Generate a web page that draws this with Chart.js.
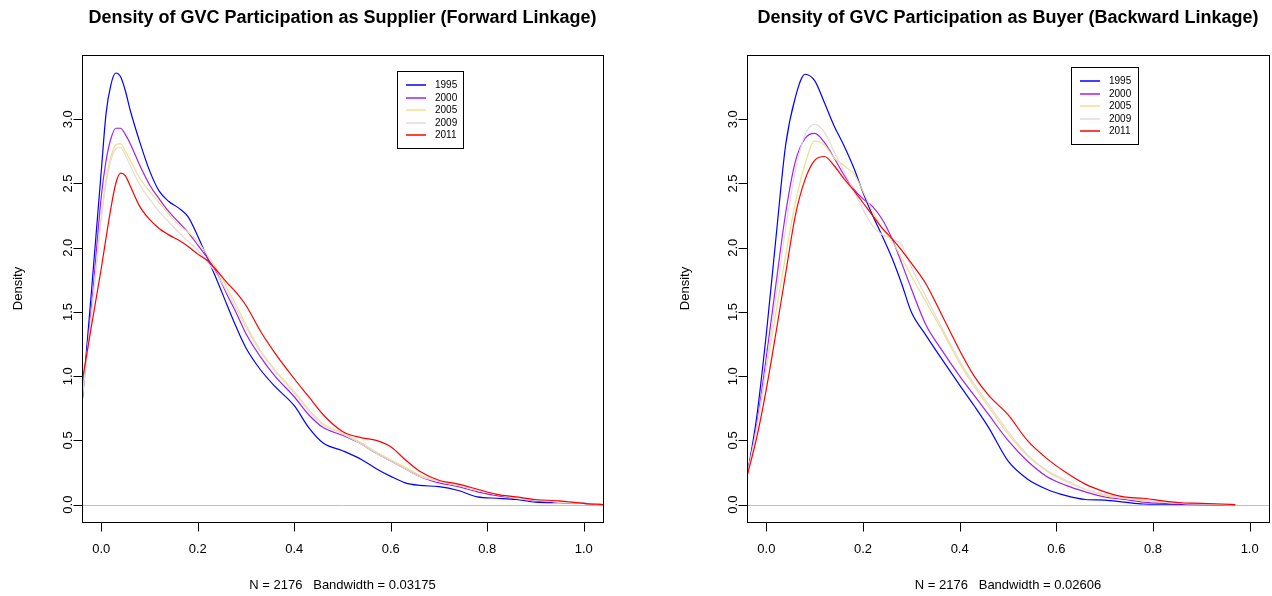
<!DOCTYPE html>
<html lang="en">
<head>
<meta charset="UTF-8" />
<title>Density of GVC Participation</title>
<style>
  html, body { margin: 0; padding: 0; background: #fff; }
  .wrap { position: relative; width: 1272px; height: 596px; }
  .panel { position: absolute; top: 0; width: 636px; height: 596px; }
</style>
</head>
<body>
<div class="wrap">
  <div class="panel" style="left:0"><canvas id="fwd" width="636" height="596"></canvas></div>
  <div class="panel" style="left:636px"><canvas id="bwd" width="636" height="596"></canvas></div>
</div>

<script src="https://cdn.jsdelivr.net/npm/chart.js"></script>
<script>
// --- data ---
const years = ["1995", "2000", "2005", "2009", "2011"];
const lineColors = ["#0000ff", "#a020f0", "#eee08c", "#e4dada", "#ff0000"];
const xTicks = [0, 0.2, 0.4, 0.6, 0.8, 1.0];
const yTicks = [0, 0.5, 1, 1.5, 2, 2.5, 3];

// forward linkage (supplier)
const fwdX = [-0.04, -0.02, 0, 0.01, 0.02, 0.03, 0.04, 0.05, 0.06, 0.08, 0.10, 0.12, 0.14, 0.16, 0.18, 0.20,
  0.22, 0.24, 0.26, 0.28, 0.30, 0.33, 0.36, 0.40, 0.43, 0.46, 0.50, 0.54, 0.57, 0.60, 0.63, 0.66,
  0.70, 0.74, 0.78, 0.82, 0.86, 0.90, 0.95, 1.00, 1.04];
const fwd1995 = [0.78, 1.68, 2.6, 3.05, 3.27, 3.36, 3.33, 3.22, 3.07, 2.82, 2.6, 2.44, 2.36, 2.31, 2.24, 2.09,
  1.92, 1.745, 1.56, 1.38, 1.22, 1.05, 0.92, 0.77, 0.6, 0.48, 0.42, 0.35, 0.28, 0.22, 0.17, 0.15,
  0.14, 0.11, 0.06, 0.05, 0.04, 0.02, 0.015, 0.01, 0.0];
const fwd2000 = [0.8, 1.55, 2.4, 2.68, 2.85, 2.93, 2.93, 2.88, 2.81, 2.64, 2.49, 2.38, 2.28, 2.2, 2.12, 2.02,
  1.92, 1.8, 1.64, 1.49, 1.33, 1.15, 1.0, 0.84, 0.7, 0.6, 0.54, 0.47, 0.4, 0.34, 0.28, 0.22,
  0.17, 0.14, 0.1, 0.07, 0.05, 0.03, 0.02, 0.01, 0.0];
const fwd2005 = [0.82, 1.5, 2.25, 2.53, 2.71, 2.8, 2.81, 2.75, 2.68, 2.54, 2.44, 2.35, 2.26, 2.18, 2.12, 2.05,
  1.94, 1.83, 1.69, 1.55, 1.4, 1.2, 1.05, 0.88, 0.74, 0.63, 0.56, 0.48, 0.41, 0.35, 0.29, 0.23,
  0.18, 0.15, 0.11, 0.08, 0.05, 0.035, 0.02, 0.01, 0.0];
const fwd2009 = [0.82, 1.48, 2.22, 2.5, 2.68, 2.77, 2.78, 2.72, 2.64, 2.49, 2.38, 2.28, 2.2, 2.12, 2.05, 1.98,
  1.89, 1.79, 1.66, 1.52, 1.38, 1.19, 1.04, 0.87, 0.73, 0.62, 0.55, 0.47, 0.4, 0.34, 0.28, 0.22,
  0.18, 0.15, 0.11, 0.08, 0.05, 0.035, 0.02, 0.01, 0.0];
const fwd2011 = [0.95, 1.4, 1.84, 2.08, 2.31, 2.5, 2.58, 2.56, 2.48, 2.32, 2.22, 2.15, 2.1, 2.06, 2.01, 1.95,
  1.9, 1.82, 1.73, 1.65, 1.55, 1.35, 1.18, 0.98, 0.84, 0.7, 0.57, 0.52, 0.5, 0.45, 0.35, 0.26,
  0.19, 0.16, 0.12, 0.08, 0.06, 0.04, 0.03, 0.01, 0.0];

// backward linkage (buyer)
const bwdX = [-0.04, -0.02, 0, 0.02, 0.04, 0.06, 0.08, 0.10, 0.12, 0.14, 0.16, 0.18, 0.20, 0.22, 0.24, 0.26,
  0.28, 0.30, 0.33, 0.36, 0.40, 0.43, 0.46, 0.50, 0.54, 0.58, 0.62, 0.66, 0.70, 0.74, 0.78, 0.82,
  0.86, 0.90, 0.94, 0.97];
const bwd1995 = [0.22, 0.68, 1.33, 2.08, 2.8, 3.17, 3.35, 3.3, 3.13, 2.95, 2.8, 2.63, 2.43, 2.25, 2.09, 1.92,
  1.72, 1.5, 1.32, 1.15, 0.93, 0.77, 0.6, 0.34, 0.2, 0.12, 0.07, 0.04, 0.035, 0.02, 0.005, 0.003,
  0.002, 0.001, 0.0, 0.0];
const bwd2000 = [0.22, 0.62, 1.15, 1.72, 2.27, 2.67, 2.85, 2.89, 2.82, 2.7, 2.57, 2.46, 2.38, 2.32, 2.22, 2.07,
  1.88, 1.68, 1.4, 1.22, 1.0, 0.85, 0.7, 0.5, 0.34, 0.22, 0.15, 0.1, 0.06, 0.04, 0.02, 0.01,
  0.005, 0.003, 0.001, 0.0];
const bwd2005 = [0.22, 0.58, 1.05, 1.5, 1.94, 2.35, 2.65, 2.83, 2.8, 2.7, 2.64, 2.58, 2.44, 2.28, 2.15, 2.05,
  1.92, 1.78, 1.58, 1.38, 1.1, 0.92, 0.76, 0.55, 0.38, 0.26, 0.18, 0.12, 0.07, 0.05, 0.03, 0.02,
  0.01, 0.005, 0.002, 0.0];
const bwd2009 = [0.22, 0.6, 1.08, 1.62, 2.15, 2.6, 2.88, 2.96, 2.9, 2.75, 2.6, 2.45, 2.3, 2.17, 2.1, 2.07,
  2.02, 1.85, 1.62, 1.4, 1.12, 0.94, 0.78, 0.57, 0.39, 0.27, 0.19, 0.12, 0.08, 0.05, 0.04, 0.02,
  0.01, 0.006, 0.002, 0.0];
const bwd2011 = [0.22, 0.52, 0.9, 1.34, 1.8, 2.25, 2.53, 2.68, 2.71, 2.64, 2.54, 2.45, 2.35, 2.25, 2.15, 2.07,
  1.98, 1.88, 1.72, 1.5, 1.2, 1.0, 0.85, 0.7, 0.5, 0.36, 0.25, 0.16, 0.1, 0.06, 0.05, 0.03,
  0.015, 0.01, 0.005, 0.0];

const FONT = '"Liberation Sans", Arial, Helvetica, sans-serif';

function toPoints(xs, ys) {
  return xs.map((x, i) => ({ x: x, y: ys[i] }));
}

// draws the R style frame, axes, titles and legend using the chart's scales
const rPlot = {
  id: "rPlot",
  beforeDatasetsDraw(chart, args, opts) {
    const { ctx, chartArea: a, scales } = chart;
    const y0 = Math.round(scales.y.getPixelForValue(0)) + 0.5;
    ctx.save();
    ctx.strokeStyle = "#bebebe";
    ctx.lineWidth = 1;
    ctx.beginPath();
    ctx.moveTo(a.left, y0);
    ctx.lineTo(a.right, y0);
    ctx.stroke();
    ctx.restore();
  },
  afterDraw(chart, args, opts) {
    const { ctx, chartArea: a, scales } = chart;
    const L = Math.round(a.left) + 0.5, R = Math.round(a.right) + 0.5;
    const T = Math.round(a.top) + 0.5, B = Math.round(a.bottom) + 0.5;
    ctx.save();
    ctx.strokeStyle = "#000";
    ctx.lineWidth = 1;
    ctx.strokeRect(L, T, R - L, B - T);

    // x axis
    ctx.fillStyle = "#000";
    ctx.font = "13px " + FONT;
    ctx.textAlign = "center";
    ctx.textBaseline = "middle";
    ctx.beginPath();
    xTicks.forEach(v => {
      const px = Math.round(scales.x.getPixelForValue(v)) + 0.5;
      ctx.moveTo(px, B);
      ctx.lineTo(px, B + 9);
    });
    ctx.stroke();
    xTicks.forEach(v => {
      ctx.fillText(v.toFixed(1), scales.x.getPixelForValue(v), 549);
    });

    // y axis
    ctx.beginPath();
    yTicks.forEach(v => {
      const py = Math.round(scales.y.getPixelForValue(v)) + 0.5;
      ctx.moveTo(L, py);
      ctx.lineTo(L - 9, py);
    });
    ctx.stroke();
    yTicks.forEach(v => {
      ctx.save();
      ctx.translate(a.left - 14, scales.y.getPixelForValue(v));
      ctx.rotate(-Math.PI / 2);
      ctx.fillText(v.toFixed(1), 0, 0);
      ctx.restore();
    });

    // axis titles
    ctx.save();
    ctx.translate(opts.ylabX, (a.top + a.bottom) / 2);
    ctx.rotate(-Math.PI / 2);
    ctx.fillText("Density", 0, 0);
    ctx.restore();
    ctx.fillText(opts.sub, (a.left + a.right) / 2, 585);

    ctx.font = "bold 18px " + FONT;
    ctx.fillText(opts.title, (a.left + a.right) / 2, 18);

    // legend
    const lg = opts.legend;
    ctx.strokeRect(lg.x + 0.5, lg.y + 0.5, lg.w, lg.h);
    ctx.font = "10px " + FONT;
    ctx.textAlign = "left";
    chart.data.datasets.forEach((ds, i) => {
      const ry = Math.round(lg.y + 14 + i * 12.5);
      ctx.save();
      ctx.globalAlpha = 0.75;
      ctx.strokeStyle = ds.borderColor;
      ctx.lineWidth = 2;
      ctx.beginPath();
      ctx.moveTo(lg.x + 9, ry);
      ctx.lineTo(lg.x + 29, ry);
      ctx.stroke();
      ctx.restore();
      ctx.fillText(ds.label, lg.x + 38, ry);
    });
    ctx.restore();
  }
};

function makeChart(id, xs, series, pad, opts) {
  return new Chart(document.getElementById(id), {
    type: "line",
    data: {
      datasets: series.map((ys, i) => ({
        label: years[i],
        data: toPoints(xs, ys),
        borderColor: lineColors[i],
        borderWidth: 1.2,
        pointRadius: 0,
        cubicInterpolationMode: "monotone",
        order: series.length - i
      }))
    },
    options: {
      responsive: false,
      animation: false,
      devicePixelRatio: 1,
      layout: { padding: pad },
      scales: {
        x: { type: "linear", min: -0.04, max: 1.04, display: false },
        y: { type: "linear", min: -0.135, max: 3.50, display: false }
      },
      plugins: {
        legend: { display: false },
        tooltip: { enabled: false },
        rPlot: opts
      }
    },
    plugins: [rPlot]
  });
}

makeChart("fwd", fwdX, [fwd1995, fwd2000, fwd2005, fwd2009, fwd2011],
  { left: 82, top: 55, right: 33, bottom: 74 },
  {
    title: "Density of GVC Participation as Supplier (Forward Linkage)",
    sub: "N = 2176   Bandwidth = 0.03175",
    ylabX: 18,
    legend: { x: 397, y: 71, w: 66, h: 77 }
  });

makeChart("bwd", bwdX, [bwd1995, bwd2000, bwd2005, bwd2009, bwd2011],
  { left: 111, top: 55, right: 3, bottom: 74 },
  {
    title: "Density of GVC Participation as Buyer (Backward Linkage)",
    sub: "N = 2176   Bandwidth = 0.02606",
    ylabX: 49,
    legend: { x: 435, y: 67, w: 67, h: 77 }
  });
</script>
</body>
</html>
